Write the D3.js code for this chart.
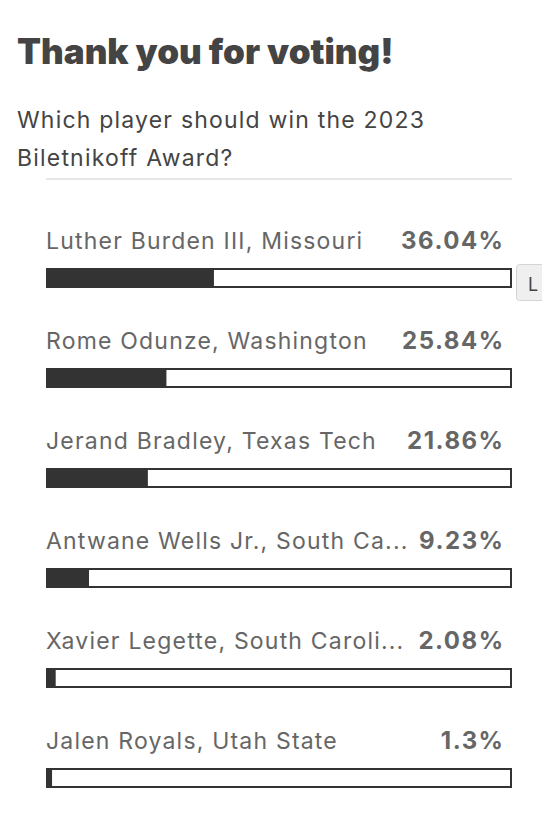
<!DOCTYPE html>
<html><head><meta charset="utf-8">
<script src="https://cdn.jsdelivr.net/npm/d3@7"></script>
<style>
html,body{margin:0;padding:0;background:#fff;overflow:hidden;}
svg{display:block;}
</style></head>
<body>
<script>
const title = "Thank you for voting!";
const questionLines = ["Which player should win the 2023", "Biletnikoff Award?"];
const players = ["Luther Burden III, Missouri", "Rome Odunze, Washington", "Jerand Bradley, Texas Tech", "Antwane Wells Jr., South Ca...", "Xavier Legette, South Caroli...", "Jalen Royals, Utah State"];
const percents = [36.04, 25.84, 21.86, 9.23, 2.08, 1.3];
const percentLabels = ["36.04%", "25.84%", "21.86%", "9.23%", "2.08%", "1.3%"];

const W = 542, H = 820;
const font = "Inter, 'Liberation Sans', sans-serif";
const svg = d3.select("body").append("svg").attr("width", W).attr("height", H);

svg.append("text").attr("x", 17).attr("y", 64).text(title)
  .attr("font-family", font).attr("font-weight", 900).attr("font-size", 35)
  .attr("letter-spacing", 0).attr("fill", "#444");

svg.selectAll("text.q").data(questionLines).join("text").attr("class", "q")
  .attr("x", 17).attr("y", (d, i) => 128 + i * 38).text(d => d)
  .attr("font-family", font).attr("font-size", 23).attr("letter-spacing", 1.2).attr("fill", "#444");

svg.append("line").attr("x1", 46).attr("x2", 512).attr("y1", 179).attr("y2", 179)
  .attr("stroke", "#e6e6e6").attr("stroke-width", 2);

const x = d3.scaleLinear().domain([0, 100]).range([0, 466]);
const y = d3.scaleBand().domain(players).range([200, 800]);

const rows = svg.selectAll("g.row").data(players).join("g").attr("class", "row")
  .attr("transform", d => `translate(0,${y(d)})`);

rows.append("text").attr("x", 46).attr("y", 49).text(d => d)
  .attr("font-family", font).attr("font-size", 23).attr("letter-spacing", 1.2).attr("fill", "#666");
rows.append("text").attr("x", 504.5).attr("y", 49).attr("text-anchor", "end")
  .text((d, i) => percentLabels[i])
  .attr("font-family", font).attr("font-weight", 700).attr("font-size", 24)
  .attr("letter-spacing", 1.5).attr("fill", "#666");
rows.append("rect").attr("x", 47).attr("y", 69).attr("width", 464).attr("height", 18)
  .attr("fill", "#fff").attr("stroke", "#333").attr("stroke-width", 2);
rows.append("rect").attr("x", 46).attr("y", 68).attr("width", (d, i) => x(percents[i])).attr("height", 20)
  .attr("fill", "#333");

// cut-off tooltip at right edge
const tip = svg.append("g");
tip.append("rect").attr("x", 516.5).attr("y", 264.5).attr("width", 40).attr("height", 36).attr("rx", 3)
  .attr("fill", "#efefef").attr("stroke", "#d4d4d4");
tip.append("text").attr("x", 528).attr("y", 291).text("L")
  .attr("font-family", font).attr("font-size", 18).attr("fill", "#444");
</script>
</body></html>
